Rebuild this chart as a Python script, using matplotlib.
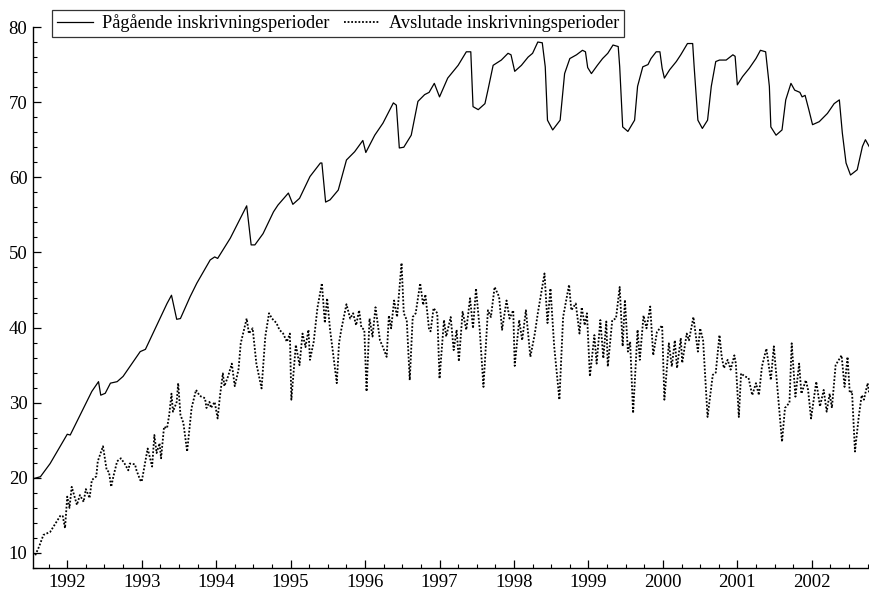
import matplotlib
matplotlib.use("Agg")
import matplotlib.pyplot as plt
from matplotlib.ticker import MultipleLocator

# ---- data ----
pag_t = [1991.55, 1991.64, 1991.77, 1992.00, 1992.04, 1992.33, 1992.42, 1992.45, 1992.51, 1992.58,
         1992.67, 1992.75, 1992.98, 1993.05, 1993.34, 1993.40, 1993.47, 1993.52, 1993.65, 1993.74,
         1993.92, 1993.98, 1994.02, 1994.19, 1994.41, 1994.47, 1994.52, 1994.63, 1994.77, 1994.83,
         1994.97, 1995.03, 1995.12, 1995.26, 1995.40, 1995.42, 1995.47, 1995.53, 1995.64, 1995.75,
         1995.86, 1995.97, 1996.01, 1996.13, 1996.24, 1996.38, 1996.42, 1996.46, 1996.52, 1996.62,
         1996.71, 1996.80, 1996.86, 1996.93, 1997.00, 1997.11, 1997.25, 1997.36, 1997.42, 1997.45,
         1997.52, 1997.61, 1997.65, 1997.72, 1997.83, 1997.92, 1997.96, 1998.01, 1998.10, 1998.19,
         1998.25, 1998.32, 1998.38, 1998.42, 1998.45, 1998.52, 1998.59, 1998.62, 1998.68, 1998.75,
         1998.84, 1998.92, 1998.96, 1998.99, 1999.04, 1999.12, 1999.19, 1999.26, 1999.33, 1999.40,
         1999.42, 1999.46, 1999.53, 1999.62, 1999.66, 1999.73, 1999.80, 1999.84, 1999.91, 1999.96,
         1999.99, 2000.02, 2000.09, 2000.18, 2000.24, 2000.33, 2000.40, 2000.42, 2000.47, 2000.53,
         2000.60, 2000.65, 2000.71, 2000.76, 2000.85, 2000.94, 2000.97, 2001.00, 2001.07, 2001.16,
         2001.25, 2001.31, 2001.38, 2001.43, 2001.45, 2001.52, 2001.60, 2001.65, 2001.72, 2001.77,
         2001.84, 2001.87, 2001.91, 2001.96, 2002.01, 2002.10, 2002.21, 2002.30, 2002.37, 2002.41,
         2002.46, 2002.52, 2002.61, 2002.68, 2002.72, 2002.77]
pag_v = [19.9, 20.15, 21.9, 25.8, 25.7, 31.5, 32.8, 31.0, 31.25, 32.6,
         32.8, 33.5, 36.8, 37.1, 43.2, 44.3, 41.1, 41.2, 44.1, 45.9,
         49.0, 49.4, 49.2, 51.9, 56.2, 51.0, 51.0, 52.5, 55.4, 56.3,
         57.9, 56.4, 57.2, 60.1, 61.9, 61.9, 56.7, 57.0, 58.3, 62.3,
         63.4, 64.9, 63.3, 65.6, 67.2, 69.9, 69.6, 63.9, 64.0, 65.6,
         70.1, 71.0, 71.3, 72.5, 70.7, 73.2, 74.9, 76.7, 76.7, 69.4,
         69.0, 69.8, 71.6, 74.9, 75.6, 76.5, 76.3, 74.1, 74.9, 76.0,
         76.5, 78.0, 77.9, 74.7, 67.6, 66.3, 67.2, 67.6, 73.8, 75.8,
         76.3, 76.9, 76.7, 74.6, 73.8, 74.9, 75.8, 76.5, 77.6, 77.4,
         74.7, 66.7, 66.1, 67.6, 72.1, 74.7, 75.0, 75.8, 76.7, 76.7,
         74.5, 73.2, 74.3, 75.4, 76.3, 77.8, 77.8, 74.7, 67.6, 66.5,
         67.6, 72.1, 75.4, 75.6, 75.6, 76.3, 76.1, 72.3, 73.4, 74.5,
         75.8, 76.9, 76.7, 72.1, 66.7, 65.6, 66.3, 70.3, 72.5, 71.6,
         71.3, 70.7, 70.9, 69.0, 67.0, 67.4, 68.5, 69.8, 70.3, 65.9,
         61.9, 60.3, 61.0, 64.1, 65.0, 64.1]

avs_t = [1991.57, 1991.62, 1991.68, 1991.77, 1991.84, 1991.91, 1991.94, 1991.97, 1992.00, 1992.03,
         1992.06, 1992.13, 1992.17, 1992.22, 1992.25, 1992.30, 1992.33, 1992.39, 1992.41, 1992.48,
         1992.53, 1992.56, 1992.59, 1992.62, 1992.67, 1992.72, 1992.77, 1992.82, 1992.84, 1992.91,
         1992.93, 1992.98, 1993.00, 1993.08, 1993.14, 1993.17, 1993.20, 1993.24, 1993.26, 1993.30,
         1993.34, 1993.37, 1993.40, 1993.42, 1993.47, 1993.49, 1993.52, 1993.56, 1993.61, 1993.67,
         1993.73, 1993.78, 1993.85, 1993.87, 1993.91, 1993.93, 1993.98, 1994.02, 1994.05, 1994.09,
         1994.11, 1994.16, 1994.21, 1994.25, 1994.30, 1994.33, 1994.41, 1994.44, 1994.49, 1994.54,
         1994.61, 1994.66, 1994.71, 1994.75, 1994.81, 1994.85, 1994.90, 1994.95, 1994.99, 1995.01,
         1995.07, 1995.12, 1995.16, 1995.20, 1995.24, 1995.26, 1995.31, 1995.36, 1995.42, 1995.46,
         1995.49, 1995.53, 1995.57, 1995.62, 1995.65, 1995.68, 1995.75, 1995.80, 1995.84, 1995.88,
         1995.92, 1995.95, 1995.99, 1996.02, 1996.06, 1996.10, 1996.14, 1996.20, 1996.24, 1996.29,
         1996.32, 1996.35, 1996.39, 1996.43, 1996.49, 1996.52, 1996.56, 1996.60, 1996.64, 1996.68,
         1996.74, 1996.78, 1996.81, 1996.86, 1996.88, 1996.92, 1996.97, 1997.00, 1997.06, 1997.09,
         1997.15, 1997.19, 1997.23, 1997.26, 1997.31, 1997.36, 1997.41, 1997.45, 1997.49, 1997.54,
         1997.59, 1997.65, 1997.69, 1997.74, 1997.80, 1997.84, 1997.90, 1997.94, 1997.99, 1998.01,
         1998.07, 1998.11, 1998.16, 1998.22, 1998.28, 1998.32, 1998.41, 1998.45, 1998.49, 1998.54,
         1998.61, 1998.66, 1998.74, 1998.77, 1998.83, 1998.88, 1998.91, 1998.95, 1998.98, 1999.02,
         1999.08, 1999.11, 1999.16, 1999.20, 1999.24, 1999.26, 1999.32, 1999.37, 1999.42, 1999.46,
         1999.49, 1999.53, 1999.56, 1999.60, 1999.66, 1999.69, 1999.74, 1999.78, 1999.83, 1999.87,
         1999.92, 1999.99, 2000.02, 2000.08, 2000.12, 2000.16, 2000.19, 2000.24, 2000.26, 2000.32,
         2000.35, 2000.41, 2000.47, 2000.50, 2000.54, 2000.60, 2000.67, 2000.71, 2000.76, 2000.79,
         2000.82, 2000.87, 2000.91, 2000.96, 2000.98, 2001.02, 2001.05, 2001.10, 2001.15, 2001.20,
         2001.25, 2001.29, 2001.33, 2001.39, 2001.45, 2001.49, 2001.54, 2001.60, 2001.64, 2001.70,
         2001.73, 2001.78, 2001.83, 2001.86, 2001.92, 2001.95, 2001.99, 2002.06, 2002.11, 2002.16,
         2002.20, 2002.24, 2002.27, 2002.32, 2002.40, 2002.44, 2002.48, 2002.51, 2002.54, 2002.58,
         2002.63, 2002.67, 2002.70, 2002.75, 2002.77]
avs_v = [9.7, 10.8, 12.4, 12.8, 13.9, 15.0, 14.9, 13.3, 17.5, 16.0,
         18.8, 16.4, 17.7, 16.8, 18.5, 17.3, 19.7, 20.2, 22.2, 24.2,
         21.0, 20.8, 18.8, 20.2, 22.2, 22.6, 21.9, 21.0, 21.9, 21.8,
         21.0, 19.7, 19.5, 23.9, 21.5, 25.7, 23.3, 24.6, 22.6, 26.8,
         26.6, 28.4, 31.2, 28.8, 30.1, 32.6, 28.4, 27.3, 23.5, 29.3,
         31.7, 30.9, 30.6, 29.3, 30.1, 29.3, 30.1, 27.9, 30.8, 33.9,
         32.2, 33.5, 35.2, 32.2, 34.4, 37.9, 41.2, 39.2, 39.9, 35.2,
         31.9, 38.8, 41.9, 41.2, 40.6, 39.7, 39.2, 38.1, 39.2, 30.4,
         37.7, 35.0, 39.2, 37.4, 39.7, 35.7, 38.1, 42.6, 45.9, 40.6,
         43.9, 39.7, 36.6, 32.6, 37.9, 39.7, 43.1, 41.2, 41.9, 40.3,
         42.3, 40.0, 39.7, 31.5, 41.2, 38.8, 42.7, 38.3, 37.4, 36.1,
         41.6, 39.9, 43.6, 41.4, 48.6, 41.9, 41.0, 33.0, 41.4, 41.9,
         45.9, 43.0, 44.4, 39.7, 39.5, 42.6, 41.9, 33.2, 41.0, 38.8,
         41.4, 37.0, 39.7, 35.5, 42.1, 39.7, 43.9, 39.9, 45.2, 39.7,
         32.1, 42.3, 41.4, 45.4, 44.1, 39.7, 43.6, 41.2, 42.3, 34.9,
         41.0, 38.3, 42.3, 36.1, 39.2, 41.9, 47.2, 40.6, 45.2, 37.5,
         30.4, 41.4, 45.7, 42.3, 43.2, 39.2, 42.7, 40.3, 41.9, 33.5,
         39.0, 35.2, 41.0, 35.9, 40.8, 34.8, 41.0, 41.2, 45.4, 37.5,
         43.7, 36.8, 38.1, 28.6, 39.7, 35.7, 41.6, 39.9, 42.8, 36.3,
         39.4, 40.3, 30.4, 37.9, 34.8, 38.3, 34.6, 38.6, 35.3, 39.2,
         38.3, 41.4, 36.8, 39.9, 38.3, 28.1, 33.7, 34.0, 39.0, 36.1,
         34.6, 35.7, 34.4, 36.3, 35.2, 28.1, 33.9, 33.5, 33.3, 31.0,
         32.6, 31.0, 34.8, 37.2, 33.0, 37.5, 31.7, 24.8, 29.3, 30.0,
         37.9, 30.8, 35.2, 31.2, 33.0, 31.7, 27.9, 32.8, 29.5, 31.7,
         28.8, 31.2, 29.3, 35.0, 36.3, 32.1, 36.1, 31.3, 31.5, 23.5,
         28.1, 31.0, 30.4, 32.6, 31.3]

years = list(range(1992, 2003))
year_labels = [str(y) for y in years]
yticks = [10, 20, 30, 40, 50, 60, 70, 80]
labels = ["Pågående inskrivningsperioder", "Avslutade inskrivningsperioder"]

# ---- figure ----
plt.rcParams['font.family'] = ['Liberation Serif', 'DejaVu Serif']
W, H = 870, 591
fig = plt.figure(figsize=(W / 100, H / 100), dpi=100)
ax = fig.add_axes([33 / W, (H - 568) / H, (869.5 - 33) / W, (568 - 27) / H])

l1, = ax.plot(pag_t, pag_v, color='black', lw=0.9, label=labels[0])
l2, = ax.plot(avs_t, avs_v, color='black', lw=1.3, linestyle=(0, (1.0, 1.0)), label=labels[1])

ax.set_xlim(1991.54, 2002.775)
ax.set_ylim(8, 80)
ax.set_xticks(years)
ax.set_xticklabels(year_labels)
ax.xaxis.set_minor_locator(MultipleLocator(0.25))
ax.set_yticks(yticks)
ax.yaxis.set_minor_locator(MultipleLocator(2))

for s in ['top', 'right']:
    ax.spines[s].set_visible(False)
for s in ['left', 'bottom']:
    ax.spines[s].set_linewidth(1.0)

ax.tick_params(which='major', direction='in', length=5.5, width=0.9, labelsize=13.5, pad=4)
ax.tick_params(which='minor', direction='in', length=2.8, width=0.8)

leg = fig.legend(handles=[l1, l2], loc='upper left', bbox_to_anchor=(52 / W, 1 - 10 / H),
                 ncol=2, frameon=True, fancybox=False, edgecolor='black', fontsize=13.2,
                 borderaxespad=0, borderpad=0.25, handlelength=2.0, handletextpad=0.5,
                 columnspacing=0.75)
leg.get_frame().set_linewidth(0.9)

fig.savefig("out.png", dpi=100)
